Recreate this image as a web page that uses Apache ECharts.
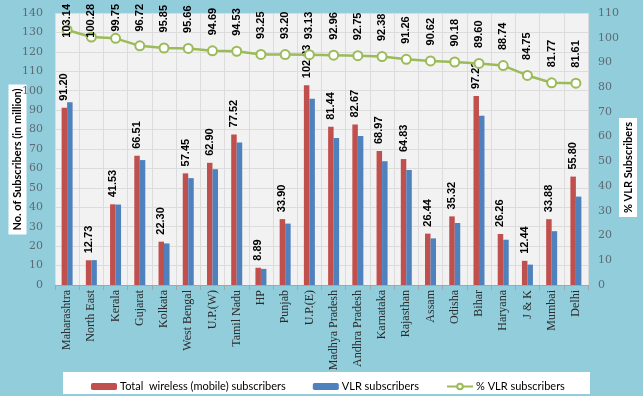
<!DOCTYPE html>
<html>
<head>
<meta charset="utf-8">
<script src="https://cdn.jsdelivr.net/npm/echarts@6/dist/echarts.min.js"></script>
<style>
  html, body { margin: 0; padding: 0; background: #92cddc; }
  #chart { width: 643px; height: 396px; }
</style>
</head>
<body>
<div id="chart"></div>
<script>
// circles / service areas
var circles = ['Maharashtra', 'North East', 'Kerala', 'Gujarat', 'Kolkata', 'West Bengal',
  'U.P.(W)', 'Tamil Nadu', 'HP', 'Punjab', 'U.P.(E)', 'Madhya Pradesh', 'Andhra Pradesh',
  'Karnataka', 'Rajasthan', 'Assam', 'Odisha', 'Bihar', 'Haryana', 'J & K', 'Mumbai', 'Delhi'];

// total wireless subscribers (million)
var totalSubs = [91.20, 12.73, 41.53, 66.51, 22.30, 57.45, 62.90, 77.52, 8.89, 33.90, 102.83,
  81.44, 82.67, 68.97, 64.83, 26.44, 35.32, 97.22, 26.26, 12.44, 33.88, 55.80];

// VLR subscribers (million)
var vlrSubs = [94.1, 12.8, 41.4, 64.3, 21.4, 55.0, 59.6, 73.3, 8.3, 31.6, 95.8,
  75.7, 76.7, 63.7, 59.2, 24.0, 31.9, 87.1, 23.3, 10.5, 27.7, 45.5];

// % VLR subscribers
var vlrPct = [103.14, 100.28, 99.75, 96.72, 95.85, 95.66, 94.69, 94.53, 93.25, 93.20, 93.13,
  92.96, 92.75, 92.38, 91.26, 90.62, 90.18, 89.60, 88.74, 84.75, 81.77, 81.61];

var chart = echarts.init(document.getElementById('chart'));

var labelFont = { fontFamily: 'Liberation Sans, Arial', fontSize: 11, fontWeight: 'bold', color: '#000' };
var titleFont = 'bold 11px "Liberation Sans Narrow", Lato, "Liberation Sans"';

function fmt(p) { return p.value.toFixed(2); }

chart.setOption({
  backgroundColor: '#92cddc',
  animation: false,
  grid: {
    left: 55, right: 55, top: 13, bottom: 111,
    show: true, backgroundColor: '#f2f2f2', borderWidth: 0
  },
  graphic: [
    { type: 'rect', left: 63, top: 372, shape: { width: 527, height: 22 },
      style: { fill: '#fff' }, z: 0 },
    { type: 'text', x: 17.5, y: 159.5, rotation: Math.PI / 2,
      style: { text: 'No. of Subscribers (in million)', fill: '#000',
        font: titleFont, align: 'center', verticalAlign: 'middle',
        backgroundColor: '#fff', padding: [4, 4, 3, 4] } },
    { type: 'text', x: 628, y: 167.5, rotation: Math.PI / 2,
      style: { text: '% VLR Subscribers', fill: '#000',
        font: titleFont, align: 'center', verticalAlign: 'middle',
        backgroundColor: '#fff', padding: [4, 4, 3, 4] } }
  ],
  legend: {
    left: 86, top: 376, itemWidth: 26, itemHeight: 7, itemGap: 27,
    textStyle: { fontFamily: 'Lato, Liberation Sans', fontSize: 11, color: '#000', padding: [0, 0, 0, -2] },
    data: ['Total  wireless (mobile) subscribers', 'VLR subscribers', '% VLR subscribers']
  },
  xAxis: {
    type: 'category',
    data: circles,
    boundaryGap: true,
    axisLine: { lineStyle: { color: '#a6a6a6' } },
    axisTick: { show: true, interval: 0, length: 5, lineStyle: { color: '#a6a6a6' } },
    splitLine: { show: true, interval: 0, lineStyle: { color: '#dcdcdc' } },
    axisLabel: {
      interval: 0, rotate: 90, margin: 5,
      fontFamily: 'Liberation Serif', fontSize: 12, color: '#2b2b2b'
    }
  },
  yAxis: [
    {
      type: 'value', min: 0, max: 140, interval: 10,
      axisLine: { show: false }, axisTick: { show: false },
      splitLine: { lineStyle: { color: '#dcdcdc' } },
      axisLabel: { margin: 12, fontFamily: 'DejaVu Serif', fontSize: 11, color: '#5f6a72' }
    },
    {
      type: 'value', min: 0, max: 110, interval: 10,
      axisLine: { show: false }, axisTick: { show: false },
      splitLine: { show: false },
      axisLabel: { margin: 10, fontFamily: 'DejaVu Serif', fontSize: 11, color: '#5f6a72' }
    }
  ],
  series: [
    {
      name: 'Total  wireless (mobile) subscribers',
      type: 'bar',
      data: totalSubs,
      barWidth: 5.5,
      barGap: '0%',
      itemStyle: { color: '#c0504d' },
      label: Object.assign({
        show: true, position: 'top', rotate: 90, align: 'left', verticalAlign: 'middle',
        distance: 7, formatter: fmt
      }, labelFont)
    },
    {
      name: 'VLR subscribers',
      type: 'bar',
      data: vlrSubs,
      barWidth: 5.5,
      itemStyle: { color: '#4f81bd' }
    },
    {
      name: '% VLR subscribers',
      type: 'line',
      yAxisIndex: 1,
      data: vlrPct,
      symbol: 'circle',
      symbolSize: 9,
      z: 5,
      lineStyle: { color: '#9bbb59', width: 2.5 },
      itemStyle: { color: '#fff', borderColor: '#9bbb59', borderWidth: 2 },
      label: Object.assign({
        show: true, position: 'top', rotate: 90, align: 'left', verticalAlign: 'middle',
        distance: 10, formatter: fmt
      }, labelFont)
    }
  ]
});

// pull the labels of the highest points down so they stay inside the chart
var ctx = document.createElement('canvas').getContext('2d');
ctx.font = 'bold 11px "Liberation Sans", Arial';
var pctItems = vlrPct.map(function (v) {
  var py = chart.convertToPixel({ yAxisIndex: 1 }, v);
  var w = ctx.measureText(v.toFixed(2)).width;
  var d = Math.min(10, py - 4.5 - w - 5);
  return d < 10 ? { value: v, label: { distance: d } } : v;
});
chart.setOption({ series: [{}, {}, { data: pctItems }] });
</script>
</body>
</html>
